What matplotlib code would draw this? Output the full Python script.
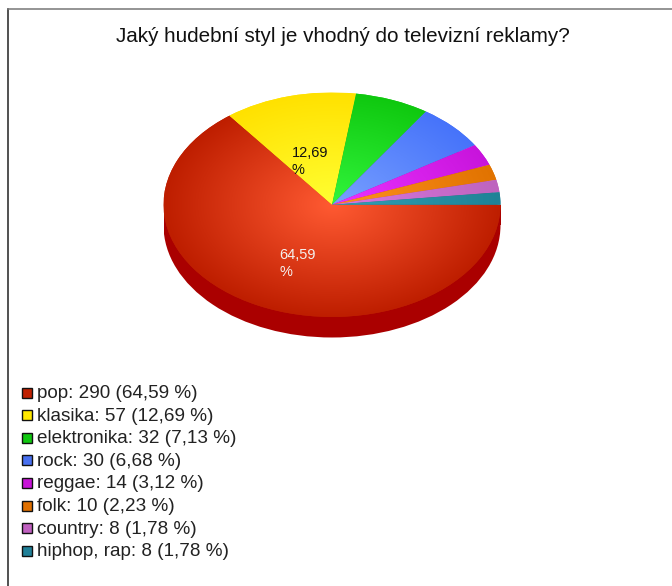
import numpy as np
import matplotlib
matplotlib.use("Agg")
import matplotlib.pyplot as plt
from matplotlib.colors import LinearSegmentedColormap
from matplotlib.patches import Ellipse, Rectangle

plt.rcParams['font.family'] = ['Liberation Sans', 'DejaVu Sans']

TITLE = "Jaký hudební styl je vhodný do televizní reklamy?"
styles = ["pop", "klasika", "elektronika", "rock", "reggae", "folk", "country", "hiphop, rap"]
counts = [290, 57, 32, 30, 14, 10, 8, 8]
percents = [64.59, 12.69, 7.13, 6.68, 3.12, 2.23, 1.78, 1.78]

# colours at the hub and at the rim of each slice
hub_colors = ["#ff5a32", "#ffff32", "#32f53c", "#78a0ff", "#eb32ff", "#ff9120", "#d778e1", "#32a0b4"]
rim_colors = ["#be1e00", "#ffe100", "#0fc80f", "#4673fa", "#c814dc", "#e17300", "#be64be", "#1e8296"]
swatch_colors = ["#c02000", "#ffe800", "#10c810", "#4870f0", "#c814d8", "#e07000", "#c060c0", "#208098"]

W, H = 672, 586
DEPTH = 0.183  # height of the pie's side wall, in radii

fig = plt.figure(figsize=(W / 100, H / 100), dpi=100, facecolor="white")

# overlay in pixel coordinates for the frame, title and legend
page = fig.add_axes([0, 0, 1, 1], zorder=2)
page.set_xlim(0, W)
page.set_ylim(H, 0)
page.axis("off")
page.patch.set_alpha(0)

page.plot([8, 8], [H, 9], color="#222222", lw=1.1)
page.plot([8, W], [9, 9], color="#777777", lw=1.1)
page.text(342.5, 36.5, TITLE, ha="center", va="center", fontsize=14.9, color="#111111")

# pie axes: unit circle stretched into an ellipse
left, right, top, bottom = 163.5, 500.5, 92.5, 337.5
ax = fig.add_axes([left / W, 1 - bottom / H, (right - left) / W, (bottom - top) / H], zorder=1)

ax.add_patch(Ellipse((0, -DEPTH), 2, 2, fc="#aa0000", ec="none"))
ax.add_patch(Rectangle((-1, -DEPTH), 2, DEPTH, fc="#aa0000", ec="none"))

wedges, _ = ax.pie(counts, startangle=0, counterclock=False, radius=1, center=(0, 0))

xx, yy = np.meshgrid(np.linspace(-1, 1, 400), np.linspace(-1, 1, 400))
rr = np.clip(np.hypot(xx, yy), 0, 1)
for wedge, hub, rim in zip(wedges, hub_colors, rim_colors):
    wedge.set_facecolor(rim)
    wedge.set_edgecolor("none")
    cmap = LinearSegmentedColormap.from_list("slice", [hub, rim])
    im = ax.imshow(rr, extent=(-1, 1, -1, 1), origin="lower", cmap=cmap, vmin=0, vmax=1,
                   aspect="auto", zorder=wedge.get_zorder() + 0.1)
    im.set_clip_path(wedge)

ax.set_aspect("auto")
ax.set_xlim(-1, 1)
ax.set_ylim(-1 - DEPTH, 1)
ax.axis("off")


def fmt(value):
    return f"{value:.2f}".replace(".", ",")


# only the two biggest slices carry a percentage
page.text(292, 161.5, fmt(percents[1]) + "\n%", ha="left", va="center", fontsize=10.5,
          color="#111111", linespacing=1.25)
page.text(279.5, 263.5, fmt(percents[0]) + "\n%", ha="left", va="center", fontsize=10.5,
          color="#f4f0ee", linespacing=1.25)

# legend
for i, (name, count, pct, color) in enumerate(zip(styles, counts, percents, swatch_colors)):
    y = 392.5 + i * 22.6
    page.add_patch(Rectangle((22, y - 5), 10, 10, fc=color, ec="#111111", lw=1))
    page.text(37, y + 1, f"{name}: {count} ({fmt(pct)} %)", ha="left", va="center",
              fontsize=13.6, color="#222222")

fig.savefig("out.png", dpi=100)
plt.close(fig)
